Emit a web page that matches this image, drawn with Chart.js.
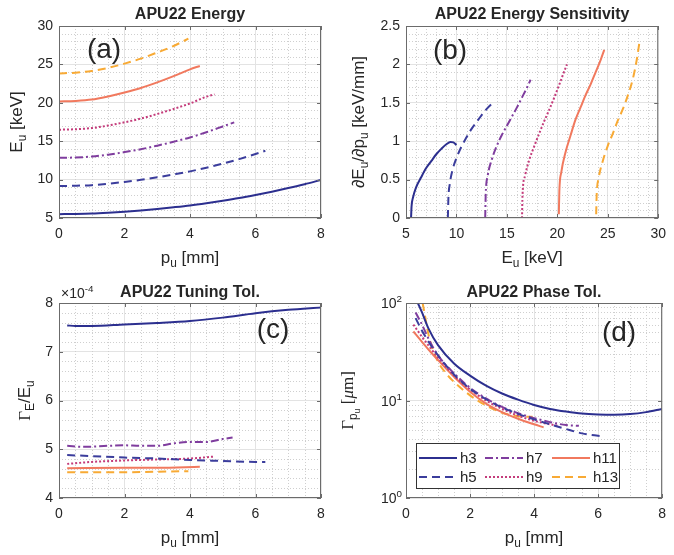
<!DOCTYPE html>
<html>
<head>
<meta charset="utf-8">
<title>APU22 harmonics</title>
<script src="https://cdn.jsdelivr.net/npm/chart.js@4.4.1/dist/chart.umd.min.js"></script>
<style>
    body { margin: 0; background: #fff; }
    #wrap { position: relative; width: 674px; height: 555px; overflow: hidden; }
    #wrap canvas { position: absolute; }
</style>
</head>
<body>
<div id="wrap">
    <canvas id="chartA" width="337" height="277" style="left:0;top:0"></canvas>
    <canvas id="chartB" width="337" height="277" style="left:337px;top:0"></canvas>
    <canvas id="chartC" width="337" height="278" style="left:0;top:277px"></canvas>
    <canvas id="chartD" width="337" height="278" style="left:337px;top:277px"></canvas>
</div>
<script>
// Harmonic names (legend labels)
const harmonics = ['h3', 'h5', 'h7', 'h9', 'h11', 'h13'];

// (a) photon energy E_u [keV] vs phase p_u [mm], pairs [p, E]
const energyH3 = [[0, 5.50], [0.5, 5.52], [1, 5.57], [1.5, 5.68], [2, 5.82], [2.5, 5.98], [3, 6.18], [3.5, 6.40], [4, 6.64], [4.5, 6.93], [5, 7.25], [5.5, 7.60], [6, 8.00], [6.5, 8.43], [7, 8.90], [7.5, 9.40], [8, 9.95]];
const energyH5 = [[0, 9.17], [0.5, 9.20], [1, 9.28], [1.5, 9.47], [2, 9.70], [2.5, 9.97], [3, 10.3], [3.5, 10.67], [4, 11.07], [4.5, 11.55], [5, 12.08], [5.5, 12.67], [6, 13.33], [6.3, 13.75]];
const energyH7 = [[0, 12.83], [0.5, 12.88], [1, 13.0], [1.5, 13.25], [2, 13.58], [2.5, 13.95], [3, 14.42], [3.5, 14.93], [4, 15.49], [4.5, 16.17], [5, 16.92], [5.35, 17.45]];
const energyH9 = [[0, 16.5], [0.5, 16.56], [1, 16.71], [1.5, 17.04], [2, 17.46], [2.5, 17.94], [3, 18.54], [3.5, 19.2], [4, 19.92], [4.5, 20.79], [4.75, 21.1]];
const energyH11 = [[0, 20.17], [0.5, 20.24], [1, 20.42], [1.5, 20.83], [2, 21.34], [2.5, 21.93], [3, 22.66], [3.5, 23.47], [4, 24.35], [4.3, 24.8]];
const energyH13 = [[0, 23.83], [0.5, 23.92], [1, 24.14], [1.5, 24.55], [2, 25.1], [2.5, 25.75], [3, 26.55], [3.5, 27.4], [3.95, 28.35]];

// (b) sensitivity dE/dp [keV/mm] vs E_u [keV], pairs [E, dE/dp]
const sensH3 = [[5.5, 0], [5.55, 0.15], [5.7, 0.27], [6.0, 0.4], [6.5, 0.53], [7.0, 0.65], [7.5, 0.74], [8.0, 0.83], [8.5, 0.9], [9.0, 0.96], [9.4, 0.99], [9.7, 0.985], [10.0, 0.95]];
const sensH5 = [[9.15, 0], [9.2, 0.25], [9.35, 0.45], [9.6, 0.62], [10, 0.78], [10.5, 0.93], [11, 1.05], [11.5, 1.16], [12, 1.25], [12.5, 1.34], [13, 1.42], [13.7, 1.51]];
const sensH7 = [[12.85, 0], [12.9, 0.3], [13.1, 0.55], [13.5, 0.76], [14, 0.94], [14.5, 1.08], [15, 1.2], [15.5, 1.32], [16, 1.44], [16.5, 1.57], [17, 1.7], [17.35, 1.8]];
const sensH9 = [[16.5, 0], [16.55, 0.3], [16.8, 0.55], [17.2, 0.75], [17.7, 0.93], [18.2, 1.1], [18.7, 1.26], [19.2, 1.41], [19.7, 1.57], [20.2, 1.74], [20.6, 1.88], [20.95, 2.0]];
const sensH11 = [[20.15, 0.05], [20.2, 0.35], [20.4, 0.6], [20.8, 0.85], [21.3, 1.07], [21.8, 1.28], [22.3, 1.44], [22.8, 1.6], [23.3, 1.74], [23.8, 1.9], [24.3, 2.06], [24.65, 2.19]];
const sensH13 = [[23.85, 0.05], [23.9, 0.3], [24.1, 0.52], [24.5, 0.74], [25, 0.94], [25.5, 1.1], [26, 1.27], [26.5, 1.42], [27, 1.6], [27.5, 1.82], [27.9, 2.08], [28.15, 2.3]];

// (c) tuning tolerance Gamma_E/E_u, in units of 1e-4, pairs [p, value]
const tuneH3 = [[0.25, 7.54], [0.5, 7.53], [1, 7.53], [2, 7.56], [3, 7.59], [4, 7.63], [5, 7.7], [6, 7.79], [7, 7.86], [8, 7.91]];
const tuneH5 = [[0.25, 4.88], [1, 4.86], [2, 4.83], [3, 4.81], [4, 4.78], [5, 4.76], [6, 4.74], [6.3, 4.74]];
const tuneH7 = [[0.25, 5.07], [0.75, 5.05], [1.5, 5.07], [2, 5.08], [2.5, 5.07], [3, 5.07], [3.5, 5.12], [4, 5.15], [4.5, 5.15], [5, 5.21], [5.3, 5.24]];
const tuneH9 = [[0.25, 4.7], [1, 4.74], [2, 4.77], [3, 4.79], [4, 4.81], [4.75, 4.85]];
const tuneH11 = [[0.25, 4.61], [2, 4.62], [3, 4.62], [4.3, 4.64]];
const tuneH13 = [[0.25, 4.53], [2, 4.53], [3.95, 4.55]];

// (d) phase tolerance Gamma_pu [um], pairs [p, value]
const phaseH3 = [[0.37, 100], [0.5, 80], [0.7, 55], [1, 37], [1.5, 24], [2, 18], [2.5, 14.2], [3, 11.8], [3.5, 10.2], [4, 9.0], [4.5, 8.2], [5, 7.7], [5.5, 7.35], [6, 7.2], [6.5, 7.15], [7, 7.25], [7.5, 7.6], [8, 8.2]];
const phaseH5 = [[0.3, 70], [0.5, 52], [0.75, 38], [1, 29], [1.5, 18.5], [2, 13.2], [2.5, 10.3], [3, 8.5], [3.5, 7.3], [4, 6.4], [4.5, 5.7], [5, 5.1], [5.5, 4.6], [6, 4.35], [6.2, 4.3]];
const phaseH7 = [[0.3, 80], [0.5, 60], [0.75, 40], [1, 29], [1.5, 19], [2, 13.5], [2.5, 10.5], [3, 8.6], [3.5, 7.4], [4, 6.6], [4.5, 6.0], [5, 5.6], [5.4, 5.5]];
const phaseH9 = [[0.23, 60], [0.5, 45], [0.75, 35], [1, 27.5], [1.5, 18], [2, 13], [2.5, 10], [3, 8.2], [3.5, 7], [4, 6.2], [4.5, 5.7], [4.75, 5.5]];
const phaseH11 = [[0.23, 51], [0.5, 40], [0.75, 32], [1, 26], [1.5, 17.5], [2, 12.3], [2.5, 9.3], [3, 7.6], [3.5, 6.5], [4, 5.7], [4.3, 5.3]];
const phaseH13 = [[0.52, 100], [0.6, 72], [0.7, 48], [0.8, 36], [1, 25], [1.25, 19], [1.5, 15.5], [2, 11.3], [2.5, 8.9], [3, 7.5], [3.5, 6.9], [3.95, 6.8]];

// Decade tick labels for the log axis of (d)
const phaseTicks = [1, 10, 100];

// Line styles per harmonic
const lineColors = ['#2c2f8f', '#3b3d9c', '#7f3d9e', '#c43c7b', '#f1795e', '#f8aa35'];
const lineDashes = [[], [8, 5], [8, 3, 2, 3], [2, 2], [], [8, 5]];

const FONT = "'Liberation Sans', Arial, sans-serif";
const SERIF = "'Liberation Serif', 'Times New Roman', serif";
const TEXT = '#262626';
const MAJOR_GRID = '#e3e3e3';
const MINOR_GRID = '#cfcfcf';
const BOX = '#6b6b6b';
const LABEL_SIZE = 17;

Chart.defaults.font.family = FONT;
Chart.defaults.color = TEXT;

// Draw text made of segments; l: 1 subscript, 2 sub-subscript, -1 superscript
function segFont(s, base) {
    const k = s.l === 1 ? 0.7 : s.l === 2 ? 0.52 : s.l === -1 ? 0.7 : 1;
    return (s.style || '') + ' ' + (base * k) + 'px ' + (s.f || FONT);
}

function segDy(s, base) {
    if (s.l === 1) return base * 0.25;
    if (s.l === 2) return base * 0.42;
    if (s.l === -1) return -base * 0.42;
    return 0;
}

function drawRich(ctx, segs, x, y, base, align, angle) {
    ctx.save();
    ctx.translate(x, y);
    ctx.rotate(angle || 0);
    ctx.fillStyle = TEXT;
    ctx.textBaseline = 'alphabetic';
    ctx.textAlign = 'left';
    let total = 0;
    const widths = segs.map(s => {
        ctx.font = segFont(s, base);
        const w = ctx.measureText(s.t).width;
        total += w;
        return w;
    });
    let cx = align === 'center' ? -total / 2 : align === 'right' ? -total : 0;
    segs.forEach((s, i) => {
        ctx.font = segFont(s, base);
        ctx.fillText(s.t, cx, segDy(s, base));
        cx += widths[i];
    });
    ctx.restore();
}

function minorValues(scale, step) {
    const vals = [];
    if (!step) return vals;
    if (step === 'log') {
        for (let d = scale.min; d < scale.max; d *= 10) {
            for (let k = 2; k <= 9; k++) vals.push(d * k);
        }
        return vals;
    }
    const majors = scale.ticks.map(t => t.value);
    const n = Math.round((scale.max - scale.min) / step);
    for (let i = 1; i < n; i++) {
        const v = scale.min + i * step;
        if (!majors.some(m => Math.abs(m - v) < 1e-9)) vals.push(v);
    }
    return vals;
}

function majorValues(scale) {
    if (scale.type === 'logarithmic') return phaseTicks;
    return scale.ticks.map(t => t.value);
}

// MATLAB-like frame: minor dotted grid, box, inward ticks, labels
const matlabAxes = {
    id: 'matlabAxes',
    beforeDatasetsDraw(chart, args, o) {
        const {ctx, chartArea: a} = chart;
        const x = chart.scales.x;
        const y = chart.scales.y;
        ctx.save();
        ctx.lineWidth = 1;
        ctx.strokeStyle = MINOR_GRID;
        ctx.setLineDash([1, 2]);
        minorValues(x, o.minorX).forEach(v => {
            const p = Math.round(x.getPixelForValue(v)) + 0.5;
            ctx.beginPath(); ctx.moveTo(p, a.top); ctx.lineTo(p, a.bottom); ctx.stroke();
        });
        minorValues(y, o.minorY).forEach(v => {
            const p = Math.round(y.getPixelForValue(v)) + 0.5;
            ctx.beginPath(); ctx.moveTo(a.left, p); ctx.lineTo(a.right, p); ctx.stroke();
        });
        ctx.restore();
    },
    afterDatasetsDraw(chart) {
        const {ctx, chartArea: a} = chart;
        const x = chart.scales.x;
        const y = chart.scales.y;
        ctx.save();
        ctx.strokeStyle = BOX;
        ctx.lineWidth = 1;
        ctx.strokeRect(a.left + 0.5, a.top + 0.5, a.right - a.left - 1, a.bottom - a.top - 1);
        ctx.beginPath();
        majorValues(x).forEach(v => {
            const p = Math.round(x.getPixelForValue(v)) + 0.5;
            ctx.moveTo(p, a.bottom); ctx.lineTo(p, a.bottom - 4);
            ctx.moveTo(p, a.top); ctx.lineTo(p, a.top + 4);
        });
        majorValues(y).forEach(v => {
            const p = Math.round(y.getPixelForValue(v)) + 0.5;
            ctx.moveTo(a.left, p); ctx.lineTo(a.left + 4, p);
            ctx.moveTo(a.right, p); ctx.lineTo(a.right - 4, p);
        });
        ctx.stroke();
        ctx.restore();
    },
    afterDraw(chart, args, o) {
        const {ctx, chartArea: a} = chart;
        const midX = (a.left + a.right) / 2;
        const midY = (a.top + a.bottom) / 2;

        // title
        ctx.save();
        ctx.fillStyle = TEXT;
        ctx.font = 'bold 16px ' + FONT;
        ctx.textAlign = 'center';
        ctx.textBaseline = 'alphabetic';
        ctx.fillText(o.title, midX, o.titleY);

        // panel letter
        ctx.font = '28px ' + FONT;
        ctx.textBaseline = 'middle';
        ctx.fillText(o.letter[0], o.letter[1], o.letter[2]);
        ctx.restore();

        drawRich(ctx, o.xLabel, midX, a.bottom + 45, LABEL_SIZE, 'center', 0);
        drawRich(ctx, o.yLabel, o.yLabelX, midY, LABEL_SIZE, 'center', -Math.PI / 2);

        if (o.exponent) {
            drawRich(ctx, o.exponent, a.left + 2, a.top - 5, 14, 'left', 0);
        }

        // decade labels of a log axis
        if (chart.scales.y.type === 'logarithmic') {
            phaseTicks.forEach(v => {
                const p = chart.scales.y.getPixelForValue(v);
                const e = String(Math.round(Math.log10(v)));
                drawRich(ctx, [{t: '10'}, {t: e, l: -1}], a.left - 4, p + 5, 14, 'right', 0);
            });
        }

        if (o.legend) {
            const L = o.legend;
            ctx.save();
            ctx.fillStyle = '#fff';
            ctx.strokeStyle = '#333';
            ctx.lineWidth = 1;
            ctx.fillRect(L.x, L.y, L.w, L.h);
            ctx.strokeRect(L.x + 0.5, L.y + 0.5, L.w, L.h);
            chart.data.datasets.forEach((ds, i) => {
                const col = Math.floor(i / 2);
                const row = i % 2;
                const lx = L.colX[col];
                const ly = L.rowY[row];
                ctx.strokeStyle = ds.borderColor;
                ctx.lineWidth = 2;
                ctx.setLineDash(ds.borderDash);
                ctx.beginPath(); ctx.moveTo(lx, ly); ctx.lineTo(lx + L.lineLen, ly); ctx.stroke();
                ctx.setLineDash([]);
                ctx.fillStyle = TEXT;
                ctx.font = '15px ' + FONT;
                ctx.textAlign = 'left';
                ctx.textBaseline = 'middle';
                ctx.fillText(ds.label, lx + L.lineLen + 3, ly + 1);
            });
            ctx.restore();
        }
    }
};

function makeDatasets(series) {
    return series.map((pts, i) => ({
        label: harmonics[i],
        data: pts.map(p => ({x: p[0], y: p[1]})),
        borderColor: lineColors[i],
        borderDash: lineDashes[i],
        borderWidth: 2,
        pointRadius: 0,
        fill: false,
        cubicInterpolationMode: 'monotone'
    }));
}

function axis(min, max, step, fitSize, isX) {
    return {
        type: 'linear',
        min: min,
        max: max,
        ticks: {
            stepSize: step,
            font: {size: 14},
            color: TEXT,
            padding: isX ? 8 : 6,
            maxRotation: 0,
            callback: v => String(Math.round(v * 100) / 100)
        },
        grid: {color: MAJOR_GRID, drawTicks: false, lineWidth: 1},
        border: {display: false},
        afterFit: s => { if (isX) s.height = fitSize; else s.width = fitSize; }
    };
}

function makeChart(id, series, scales, frame, padRight) {
    return new Chart(document.getElementById(id), {
        type: 'line',
        data: {datasets: makeDatasets(series)},
        options: {
            responsive: false,
            animation: false,
            layout: {padding: {top: 26, right: padRight, left: 0, bottom: 0}},
            plugins: {legend: {display: false}, title: {display: false}, tooltip: {enabled: false}, matlabAxes: frame},
            scales: scales
        },
        plugins: [matlabAxes]
    });
}

const subU = {t: 'u', l: 1};

makeChart('chartA',
    [energyH3, energyH5, energyH7, energyH9, energyH11, energyH13],
    {x: axis(0, 8, 2, 59, true), y: axis(5, 30, 5, 59, false)},
    {
        title: 'APU22 Energy', titleY: 19, letter: ['(a)', 104, 50],
        minorX: 0.5, minorY: 1,
        xLabel: [{t: 'p'}, subU, {t: ' [mm]'}],
        yLabel: [{t: 'E'}, subU, {t: ' [keV]'}], yLabelX: 22
    }, 16);

makeChart('chartB',
    [sensH3, sensH5, sensH7, sensH9, sensH11, sensH13],
    {x: axis(5, 30, 5, 59, true), y: axis(0, 2.5, 0.5, 69, false)},
    {
        title: 'APU22 Energy Sensitivity', titleY: 19, letter: ['(b)', 113, 51],
        minorX: 1, minorY: 0.1,
        xLabel: [{t: 'E'}, subU, {t: ' [keV]'}],
        yLabel: [{t: '∂E'}, subU, {t: '/∂p'}, subU, {t: ' [keV/mm]'}], yLabelX: 27
    }, 8);

makeChart('chartC',
    [tuneH3, tuneH5, tuneH7, tuneH9, tuneH11, tuneH13],
    {x: axis(0, 8, 2, 57, true), y: axis(4, 8, 1, 59, false)},
    {
        title: 'APU22 Tuning Tol.', titleY: 20, letter: ['(c)', 273, 53],
        minorX: 0.5, minorY: 0.2,
        xLabel: [{t: 'p'}, subU, {t: ' [mm]'}],
        yLabel: [{t: 'Γ', f: SERIF}, {t: 'E', l: 1}, {t: '/E'}, subU], yLabelX: 30,
        exponent: [{t: '×10'}, {t: '-4', l: -1}]
    }, 16);

makeChart('chartD',
    [phaseH3, phaseH5, phaseH7, phaseH9, phaseH11, phaseH13],
    {
        x: axis(0, 8, 2, 57, true),
        y: {
            type: 'logarithmic', min: 1, max: 100,
            ticks: {display: false},
            grid: {
                drawTicks: false,
                color: c => phaseTicks.includes(c.tick && c.tick.value) ? MAJOR_GRID : 'rgba(0,0,0,0)'
            },
            border: {display: false},
            afterFit: s => { s.width = 69; }
        }
    },
    {
        title: 'APU22 Phase Tol.', titleY: 20, letter: ['(d)', 282, 56],
        minorX: 0.5, minorY: 'log',
        xLabel: [{t: 'p'}, subU, {t: ' [mm]'}],
        yLabel: [{t: 'Γ', f: SERIF}, {t: 'p', l: 1}, {t: 'u', l: 2}, {t: ' [', f: SERIF}, {t: 'μ', f: SERIF, style: 'italic'}, {t: 'm]', f: SERIF}],
        yLabelX: 16,
        legend: {x: 79, y: 166, w: 203, h: 45, colX: [82, 148, 215], rowY: [181, 200], lineLen: 38}
    }, 8);
</script>
</body>
</html>
